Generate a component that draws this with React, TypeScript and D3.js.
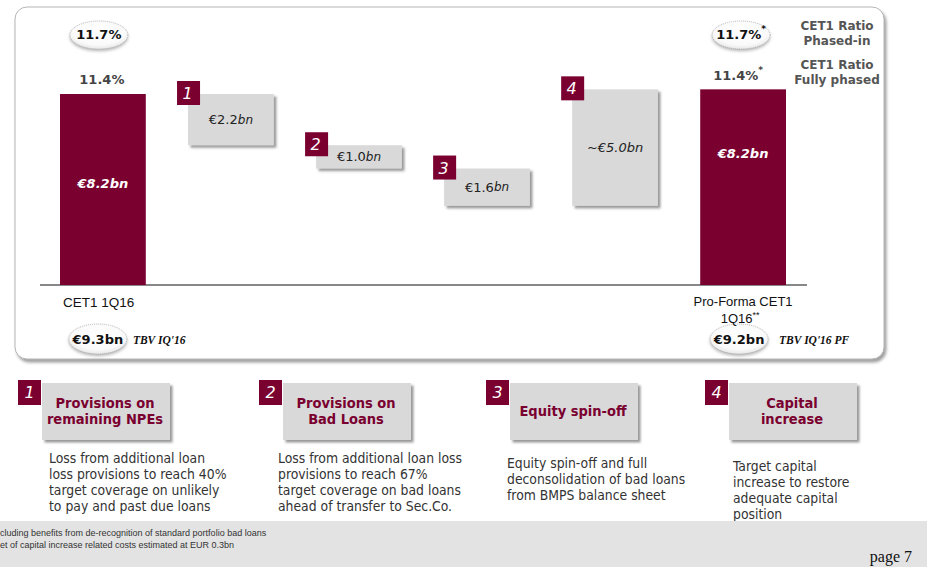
import React from "react";
import * as d3 from "d3";

// ---------- data ----------
const categories = ["CET1 1Q16", "1", "2", "3", "4", "Pro-Forma CET1"];
const startValue = 8.2;
const deltas = [-2.2, -1.0, -1.6, 5.0];
const deltaLabels = ["€2.2", "€1.0", "€1.6", "~€5.0bn"];
const deltaUnits = ["bn", "bn", "bn", ""];
const totalLabels = ["€8.2bn", "€8.2bn"];
const phasedIn = ["11.7%", "11.7%"];
const fullyPhased = ["11.4%", "11.4%"];
const ratioMarks = ["", "*"];
const tbvValues = ["€9.3bn", "€9.2bn"];
const tbvLabels = ["TBV IQ'16", "TBV IQ'16 PF"];
const itemTitles = [
  ["Provisions on", "remaining NPEs"],
  ["Provisions on", "Bad Loans"],
  ["Equity spin-off"],
  ["Capital", "increase"],
];
const itemDescs = [
  ["Loss from additional loan", "loss provisions to reach 40%", "target coverage on unlikely", "to pay and past due loans"],
  ["Loss from additional loan loss", "provisions to reach 67%", "target coverage on bad loans", "ahead of transfer to Sec.Co."],
  ["Equity spin-off and full", "deconsolidation of bad loans", "from BMPS balance sheet"],
  ["Target capital", "increase to restore", "adequate capital", "position"],
];
const footnotes = [
  "cluding benefits from de-recognition of standard portfolio bad loans",
  "et of capital increase related costs estimated at EUR 0.3bn",
];
const pageLabel = "page 7";

// ---------- style ----------
const RED = "#7a0030";
const BOXGRAY = "#d9d9d9";
const SANS = "'DejaVu Sans Condensed', 'DejaVu Sans', Verdana, sans-serif";
const SANSW = "'DejaVu Sans', Verdana, sans-serif";
const ARIAL = "'Liberation Sans', Arial, sans-serif";
const SERIF = "'Liberation Serif', 'Times New Roman', serif";

const W = 927;
const H = 567;

export default function App() {
  const x = d3
    .scaleBand<string>()
    .domain(categories)
    .range([60, 786])
    .paddingInner(0.33)
    .paddingOuter(0);
  const y = d3.scaleLinear().domain([0, startValue]).range([285, 94]);

  // waterfall segments
  let run = startValue;
  const segs: { cat: string; lo: number; hi: number; kind: string; idx: number }[] = [];
  segs.push({ cat: categories[0], lo: 0, hi: startValue, kind: "total", idx: 0 });
  deltas.forEach((d, i) => {
    const a = run;
    run = run + d;
    segs.push({ cat: categories[i + 1], lo: Math.min(a, run), hi: Math.max(a, run), kind: "delta", idx: i });
  });
  segs.push({ cat: categories[5], lo: 0, hi: run, kind: "total", idx: 1 });

  const totalLabelPos = [0.53, 0.67];
  const bw = x.bandwidth();
  const totalCats = [categories[0], categories[5]];

  const itemX = [42, 283, 510, 729];
  const descX = [49, 278, 507, 733];
  const descY = [458, 458, 463, 466];

  return (
    <svg width={W} height={H} style={{ position: "absolute", left: 0, top: 0, background: "#fff" }}>
      <defs>
        <filter id="sh" x="-20%" y="-20%" width="150%" height="150%">
          <feDropShadow dx="2.5" dy="2.5" stdDeviation="1.2" floodColor="#555" floodOpacity="0.6" />
        </filter>
        <filter id="psh" x="-5%" y="-5%" width="110%" height="115%">
          <feDropShadow dx="2" dy="3" stdDeviation="1.5" floodColor="#777" floodOpacity="0.7" />
        </filter>
        <filter id="esh" x="-30%" y="-30%" width="160%" height="180%">
          <feDropShadow dx="0" dy="2" stdDeviation="1.5" floodColor="#888" floodOpacity="0.6" />
        </filter>
        <radialGradient id="eg" cx="50%" cy="40%" r="60%">
          <stop offset="0%" stopColor="#ffffff" />
          <stop offset="75%" stopColor="#fafafa" />
          <stop offset="100%" stopColor="#e8e8e8" />
        </radialGradient>
      </defs>

      {/* panel */}
      <rect x={15} y={7} width={869} height={352} rx={12} fill="#fff" stroke="#b5b5b5" strokeWidth={1} filter="url(#psh)" />

      {/* baseline */}
      <line x1={40} x2={807} y1={y(0)} y2={y(0)} stroke="#888" strokeWidth={2} />

      {/* bars & boxes */}
      {segs.map((s, i) => {
        const bx = x(s.cat)!;
        const top = y(s.hi);
        const h = y(s.lo) - y(s.hi);
        if (s.kind === "total") {
          return (
            <g key={i}>
              <rect x={bx} y={top} width={bw} height={h} fill={RED} />
              <text
                x={bx + bw / 2}
                y={y(s.hi * totalLabelPos[s.idx])}
                textAnchor="middle"
                dominantBaseline="central"
                fill="#fff"
                fontFamily={SANSW}
                fontWeight="bold"
                fontStyle="italic"
                fontSize={13}
              >
                {totalLabels[s.idx]}
              </text>
            </g>
          );
        }
        const unit = deltaUnits[s.idx];
        return (
          <g key={i}>
            <rect x={bx} y={top} width={bw} height={h} fill={BOXGRAY} filter="url(#sh)" />
            <rect x={bx - 11} y={top - 13} width={23} height={24} fill={RED} />
            <text x={bx - 0.5} y={top - 0.5} textAnchor="middle" dominantBaseline="central" fill="#fff" fontFamily={SANSW} fontStyle="italic" fontSize={16}>
              {categories[s.idx + 1]}
            </text>
            <text
              x={bx + bw / 2}
              y={top + h / 2}
              textAnchor="middle"
              dominantBaseline="central"
              fill="#222"
              fontFamily={SANSW}
              fontSize={13}
              fontStyle={unit ? "normal" : "italic"}
            >
              {deltaLabels[s.idx]}
              {unit ? <tspan fontStyle="italic" fontSize={12}>{unit}</tspan> : null}
            </text>
          </g>
        );
      })}

      {/* ratios above totals */}
      {totalCats.map((c, i) => {
        const cx = x(c)! + bw / 2;
        return (
          <g key={"r" + i}>
            <ellipse cx={cx - 4 + i * 2} cy={35} rx={29} ry={14} fill="url(#eg)" stroke="#aaa" strokeDasharray="1,1" strokeWidth={0.8} filter="url(#esh)" />
            <text x={cx - 4 + i * 2} y={34} textAnchor="middle" dominantBaseline="central" fontFamily={SANSW} fontWeight="bold" fontSize={13} fill="#111">
              {phasedIn[i]}
              {ratioMarks[i] ? <tspan fontSize={9} dy={-5}>{ratioMarks[i]}</tspan> : null}
            </text>
            <text x={cx - 1 - i * 4} y={79 - i * 4} textAnchor="middle" dominantBaseline="central" fontFamily={SANSW} fontWeight="bold" fontSize={13} fill="#444">
              {fullyPhased[i]}
              {ratioMarks[i] ? <tspan fontSize={9} dy={-5}>{ratioMarks[i]}</tspan> : null}
            </text>
            <ellipse cx={cx - 5 + i * 1} cy={339} rx={29} ry={15} fill="url(#eg)" stroke="#aaa" strokeDasharray="1,1" strokeWidth={0.8} filter="url(#esh)" />
            <text x={cx - 5 + i * 1} y={339} textAnchor="middle" dominantBaseline="central" fontFamily={SANSW} fontWeight="bold" fontSize={13} fill="#111">
              {tbvValues[i]}
            </text>
            <text x={cx + 30 + i * 6} y={340} dominantBaseline="central" fontFamily={SERIF} fontWeight="bold" fontStyle="italic" fontSize={11.5} fill="#111">
              {tbvLabels[i]}
            </text>
          </g>
        );
      })}

      {/* legend-ish right labels */}
      {[["CET1 Ratio", "Phased-in"], ["CET1 Ratio", "Fully phased"]].map((ls, i) =>
        ls.map((l, j) => (
          <text key={"lg" + i + j} x={837} y={26 + i * 39 + j * 15} textAnchor="middle" dominantBaseline="central" fontFamily={SANSW} fontWeight="bold" fontSize={12} fill="#555">
            {l}
          </text>
        ))
      )}

      {/* category labels */}
      <text x={63} y={302} dominantBaseline="central" fontFamily={ARIAL} fontSize={13.5} fill="#111">
        {categories[0]}
      </text>
      <text x={x(categories[5])! + bw / 2} y={301} textAnchor="middle" dominantBaseline="central" fontFamily={ARIAL} fontSize={13} fill="#111">
        {categories[5]}
      </text>
      <text x={x(categories[5])! + bw / 2 - 3} y={318} textAnchor="middle" dominantBaseline="central" fontFamily={ARIAL} fontSize={13} fill="#111">
        1Q16<tspan fontSize={9} dy={-3}>**</tspan>
      </text>

      {/* bottom items */}
      {itemTitles.map((t, i) => (
        <g key={"it" + i}>
          <rect x={itemX[i]} y={383} width={128} height={57} fill={BOXGRAY} filter="url(#sh)" />
          <rect x={itemX[i] - 24} y={380} width={23} height={25} fill={RED} />
          <text x={itemX[i] - 12.5} y={392} textAnchor="middle" dominantBaseline="central" fill="#fff" fontFamily={SANSW} fontStyle="italic" fontSize={16}>
            {categories[i + 1]}
          </text>
          {t.map((line, j) => (
            <text
              key={j}
              x={itemX[i] + 63}
              y={(t.length === 1 ? 411 : 403) + j * 16}
              textAnchor="middle"
              dominantBaseline="central"
              fill={RED}
              fontFamily={SANS}
              fontWeight="bold"
              fontSize={14.5}
            >
              {line}
            </text>
          ))}
          {itemDescs[i].map((line, j) => (
            <text key={"d" + j} x={descX[i]} y={descY[i] + j * 16} dominantBaseline="central" fill="#333" fontFamily={SANS} fontSize={13.8}>
              {line}
            </text>
          ))}
        </g>
      ))}

      {/* footer */}
      <rect x={0} y={521} width={W} height={H - 521} fill="#e3e3e3" />
      {footnotes.map((f, i) => (
        <text key={"f" + i} x={0} y={533 + i * 12} dominantBaseline="central" fontFamily="'Liberation Sans Narrow', 'Liberation Sans', sans-serif" fontSize={9} fill="#333">
          {f}
        </text>
      ))}
      <text x={912} y={556} textAnchor="end" dominantBaseline="central" fontFamily={SERIF} fontSize={16} fill="#111">
        {pageLabel}
      </text>
    </svg>
  );
}
